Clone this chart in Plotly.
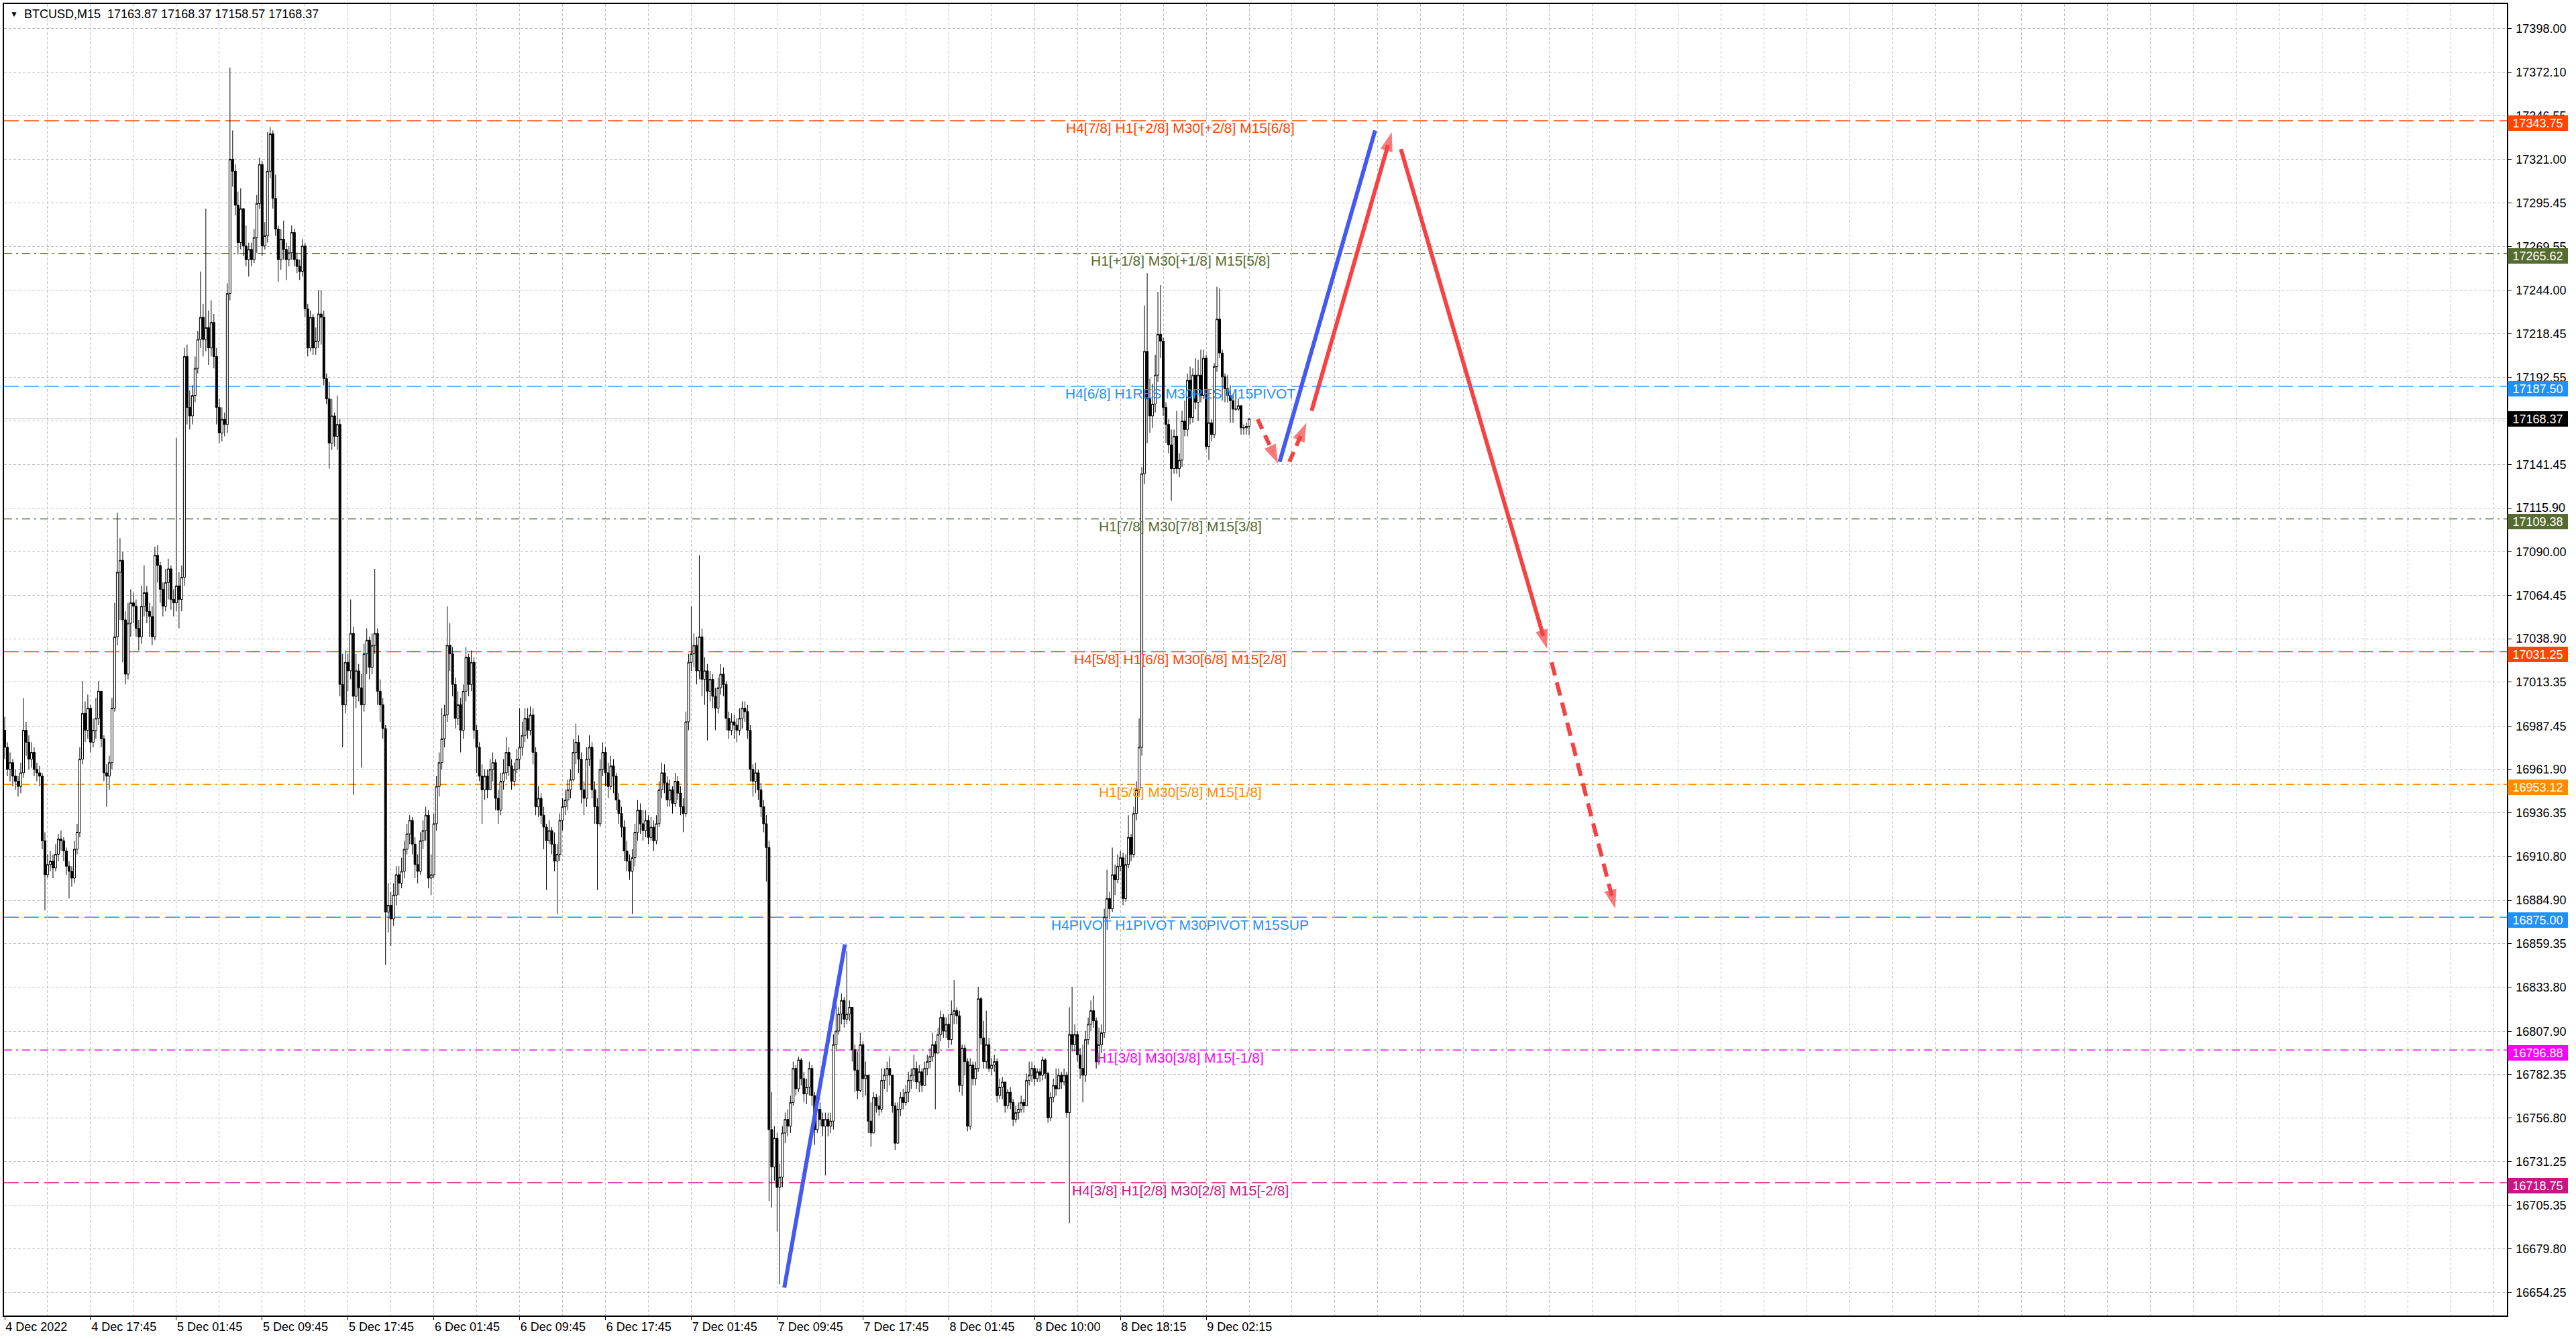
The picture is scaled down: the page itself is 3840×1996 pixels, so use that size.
import plotly.graph_objects as go

# BTCUSD M15 candles, bar 0 = 4 Dec 2022 09:45
first_open = 16985
closes = [
    16975, 16962, 16966, 16958, 16955, 16952, 16960, 16985, 16978, 16968,
    16972, 16962, 16960, 16958, 16920, 16900, 16906, 16908, 16904, 16912,
    16921, 16920, 16914, 16905, 16902, 16898, 16915, 16925, 16968, 16995,
    16985, 16998, 16978, 16985, 16992, 17008, 16980, 16960, 16958, 16966,
    16998, 17040, 17078, 17085, 17050, 17018, 17048, 17060, 17058, 17045,
    17040, 17058, 17066, 17055, 17052, 17040, 17088, 17082, 17068, 17058,
    17072, 17080, 17062, 17060, 17070, 17062, 17075, 17205, 17175, 17170,
    17182, 17198, 17215, 17228, 17215, 17222, 17210, 17225, 17205, 17175,
    17160, 17168, 17165, 17242, 17321, 17314, 17294, 17272, 17292, 17270,
    17262, 17268, 17262, 17275, 17295, 17318, 17270, 17276, 17314, 17336,
    17298, 17280, 17262, 17274, 17268, 17262, 17266, 17278, 17262, 17258,
    17255, 17270, 17233, 17210, 17228, 17210, 17214, 17230, 17228, 17192,
    17180, 17154, 17170, 17158, 17165, 17012, 17000, 17025, 17020, 17042,
    17005, 17020, 17010, 17000, 17030, 17038, 17022, 17035, 17042, 17008,
    17000, 16986, 16878, 16882, 16874, 16888, 16900, 16895, 16902, 16915,
    16924, 16932, 16918, 16906, 16902, 16920, 16926, 16935, 16898, 16900,
    16930, 16952, 16966, 16980, 16994, 17035, 17030, 17012, 16992, 17000,
    16985, 17008, 17028, 17012, 17025, 16985, 16975, 16958, 16950, 16958,
    16950, 16962, 16966, 16945, 16938, 16955, 16960, 16972, 16964, 16955,
    16962, 16968, 16975, 16982, 16992, 16985, 16994, 16972, 16940, 16945,
    16935, 16928, 16920, 16926, 16918, 16908, 16912, 16932, 16940, 16944,
    16950, 16956, 16972, 16978, 16968, 16950, 16945, 16968, 16975, 16950,
    16940, 16930, 16962, 16972, 16960, 16952, 16964, 16958, 16944, 16936,
    16928, 16914, 16908, 16902, 16910, 16925, 16938, 16930, 16926, 16932,
    16922, 16928, 16920, 16930, 16950, 16960, 16954, 16944, 16950, 16942,
    16955, 16948, 16940, 16936, 16990, 17025, 17030, 17035, 17020, 17040,
    17015, 17020, 17008, 17015, 17005, 16998, 17010, 17018, 17012, 16992,
    16985, 16990, 16988, 16985, 16992, 16998, 16996, 16985, 16962, 16955,
    16960, 16950, 16940, 16930, 16916, 16750, 16728, 16745, 16716, 16722,
    16748, 16756, 16752, 16766, 16786, 16774, 16791, 16780, 16771, 16775,
    16786, 16770, 16750, 16762, 16756, 16752, 16756, 16752, 16755, 16800,
    16808, 16818, 16826, 16815, 16818, 16822, 16797, 16785, 16773, 16800,
    16780, 16782, 16755, 16748, 16769, 16764, 16762, 16779, 16782, 16786,
    16782, 16764, 16742, 16762, 16769, 16766, 16772, 16779, 16782, 16786,
    16778, 16784, 16776, 16786, 16790, 16793, 16800, 16795, 16806, 16816,
    16808, 16812, 16803, 16818, 16820, 16817, 16776, 16798, 16790, 16752,
    16788, 16780, 16786, 16827, 16804, 16790, 16800, 16786, 16788, 16790,
    16770, 16775, 16778, 16764, 16772, 16766, 16756, 16760, 16762, 16766,
    16764, 16779, 16782, 16786, 16780, 16784, 16782, 16791, 16783, 16757,
    16769, 16776, 16774, 16782, 16778, 16782, 16760, 16806, 16800, 16806,
    16794, 16786, 16782, 16803, 16812, 16820, 16814, 16790, 16800, 16807,
    16875, 16886, 16880, 16900, 16897, 16905, 16910, 16886, 16906, 16922,
    16912, 16936, 16950, 16975, 17136, 17208, 17180, 17170, 17177, 17194,
    17218, 17214, 17175, 17165, 17153, 17139, 17158, 17139, 17144, 17167,
    17162, 17191, 17169, 17194, 17178, 17194, 17182, 17204, 17152, 17166,
    17159, 17199, 17227, 17207, 17193, 17186, 17182, 17179, 17174, 17174,
    17176, 17163, 17163, 17163.87, 17168.37,
]
highs = [
    16993, 16978, 16972, 16968, 16962, 16958, 16966, 17004, 16990, 16982,
    16978, 16975, 16966, 16964, 16960, 16925, 16912, 16914, 16912, 16918,
    16924, 16926, 16922, 16916, 16908, 16905, 16920, 16930, 16975, 17014,
    17002, 17006, 17000, 16992, 17004, 17014, 17008, 16982, 16965, 16970,
    17004, 17060, 17113, 17098, 17090, 17055, 17060, 17068, 17066, 17062,
    17050, 17070, 17082, 17070, 17060, 17058, 17093, 17094, 17084, 17072,
    17080, 17086, 17082, 17068, 17157, 17078, 17082, 17210, 17212, 17185,
    17188, 17205, 17220, 17255, 17236, 17292, 17232, 17238, 17230, 17210,
    17180, 17175, 17172, 17248, 17375, 17338, 17318, 17302, 17304, 17290,
    17282, 17272, 17272, 17280, 17300, 17322, 17320, 17284, 17337, 17340,
    17338, 17312, 17282, 17280, 17285, 17272, 17270, 17282, 17280, 17266,
    17262, 17274, 17272, 17236, 17232, 17230, 17222, 17244, 17244, 17232,
    17195, 17190, 17180, 17172, 17182, 17168, 17030, 17032, 17030, 17062,
    17046, 17030, 17024, 17018, 17036, 17045, 17040, 17042, 17080, 17045,
    17015, 17004, 16988, 16895, 16890, 16895, 16905, 16905, 16910, 16920,
    16930, 16935, 16934, 16922, 16912, 16925, 16932, 16940, 16938, 16912,
    16936, 16958, 16972, 16998, 17000, 17058, 17048, 17034, 17016, 17008,
    17004, 17012, 17034, 17030, 17032, 17028, 16988, 16978, 16965, 16962,
    16962, 16968, 16972, 16968, 16950, 16960, 16968, 16981, 16975, 16968,
    16966, 16974, 16998, 16990, 16998, 16998, 16999, 16998, 16975, 16952,
    16948, 16940, 16930, 16932, 16928, 16925, 16918, 16936, 16945, 16950,
    16956, 16962, 16980, 16989, 16982, 16972, 16955, 16975, 16982, 16978,
    16955, 16945, 16968, 16978, 16975, 16966, 16970, 16968, 16960, 16948,
    16940, 16932, 16920, 16912, 16915, 16930, 16944, 16942, 16938, 16938,
    16935, 16934, 16932, 16935, 16955, 16966, 16965, 16958, 16956, 16952,
    16960, 16958, 16952, 16945, 16996, 17030, 17058, 17042, 17040, 17088,
    17045, 17028, 17024, 17020, 17018, 17010, 17016, 17024, 17022, 17014,
    16996, 16995, 16994, 16992, 16998, 17002, 17002, 17000, 16988, 16965,
    16966, 16962, 16954, 16944, 16935, 16920, 16772, 16752, 16748, 16730,
    16752, 16760, 16762, 16770, 16790, 16788, 16793, 16792, 16784, 16780,
    16790, 16788, 16772, 16768, 16766, 16760, 16760, 16760, 16760, 16806,
    16827, 16822, 16830, 16828, 16855, 16826, 16822, 16800, 16796, 16807,
    16802, 16790, 16780, 16766, 16772, 16771, 16770, 16786, 16786, 16790,
    16793, 16780, 16766, 16766, 16772, 16774, 16776, 16784, 16786, 16794,
    16790, 16788, 16786, 16790, 16794, 16798, 16807, 16802, 16810, 16820,
    16818, 16816, 16818, 16826, 16838, 16822, 16820, 16800, 16800, 16792,
    16792, 16790, 16790, 16834, 16828, 16814, 16820, 16804, 16792, 16794,
    16792, 16780, 16781, 16778, 16774, 16775, 16768, 16764, 16766, 16770,
    16768, 16783, 16790, 16790, 16788, 16786, 16786, 16793, 16792, 16784,
    16772, 16780, 16786, 16786, 16784, 16786, 16784, 16822, 16834, 16812,
    16808, 16798, 16800, 16808, 16816, 16826, 16829, 16816, 16810, 16812,
    16880, 16903, 16890, 16916, 16906, 16912, 16914, 16913, 16912, 16935,
    16924, 16940, 16955, 16992, 17140, 17235, 17254, 17192, 17189, 17206,
    17243, 17247, 17216, 17178, 17168, 17162, 17162, 17173, 17148, 17173,
    17179, 17195, 17199, 17198, 17204, 17203, 17209, 17209, 17206, 17185,
    17168, 17201, 17246, 17245, 17209, 17195, 17194, 17188, 17183, 17185,
    17180, 17176, 17165, 17166, 17168.37,
]
lows = [
    16968, 16958, 16955, 16952, 16950, 16946, 16948, 16957, 16970, 16962,
    16963, 16958, 16955, 16952, 16915, 16879, 16898, 16902, 16898, 16902,
    16908, 16914, 16908, 16900, 16886, 16893, 16895, 16912, 16922, 16965,
    16978, 16980, 16972, 16975, 16980, 16988, 16975, 16955, 16940, 16950,
    16962, 16996, 17035, 17050, 17025, 17012, 17015, 17040, 17048, 17040,
    17032, 17036, 17052, 17048, 17040, 17035, 17038, 17072, 17060, 17052,
    17055, 17062, 17056, 17052, 17055, 17045, 17055, 17070, 17165, 17162,
    17165, 17178, 17195, 17210, 17205, 17208, 17200, 17205, 17198, 17165,
    17154, 17155, 17158, 17160, 17238, 17305, 17288, 17265, 17268, 17264,
    17258, 17252, 17258, 17260, 17266, 17292, 17264, 17268, 17272, 17310,
    17292, 17276, 17249, 17256, 17262, 17250, 17258, 17262, 17258, 17254,
    17250, 17252, 17228, 17205, 17208, 17206, 17206, 17210, 17212, 17188,
    17177, 17139, 17150, 17152, 17150, 17005, 16975, 16995, 17008, 17015,
    16947, 16998, 17002, 16963, 16996, 17018, 17015, 17018, 17030, 17000,
    16990, 16980, 16847, 16866, 16858, 16870, 16882, 16888, 16892, 16898,
    16912, 16918, 16912, 16898, 16895, 16900, 16915, 16920, 16892, 16888,
    16898, 16926, 16946, 16962, 16975, 16990, 17020, 17005, 16986, 16988,
    16972, 16980, 17002, 17005, 17008, 16980, 16960, 16955, 16930, 16944,
    16945, 16950, 16955, 16938, 16930, 16935, 16950, 16956, 16958, 16950,
    16952, 16960, 16962, 16970, 16978, 16980, 16982, 16965, 16935, 16934,
    16930, 16915, 16891, 16918, 16912, 16902, 16877, 16908, 16926, 16935,
    16938, 16945, 16955, 16965, 16960, 16942, 16935, 16940, 16964, 16945,
    16930, 16891, 16928, 16958, 16952, 16945, 16950, 16948, 16938, 16930,
    16922, 16908, 16902, 16897, 16877, 16905, 16920, 16924, 16920, 16922,
    16918, 16920, 16914, 16918, 16928, 16945, 16948, 16940, 16940, 16936,
    16940, 16944, 16935, 16925, 16934, 16985, 17020, 17022, 17012, 17015,
    17005, 17000, 16979, 17002, 16998, 16985, 16995, 17006, 17005, 16985,
    16980, 16982, 16980, 16978, 16982, 16986, 16990, 16980, 16955, 16946,
    16948, 16944, 16934, 16925, 16896, 16708, 16704, 16720, 16690, 16659,
    16716, 16742, 16746, 16748, 16764, 16770, 16772, 16776, 16766, 16765,
    16770, 16764, 16741, 16748, 16752, 16746, 16723, 16746, 16748, 16750,
    16796, 16806, 16812, 16810, 16812, 16814, 16790, 16772, 16768, 16772,
    16769, 16770, 16748, 16740, 16758, 16760, 16758, 16760, 16774, 16772,
    16776, 16760, 16738, 16744, 16758, 16762, 16764, 16766, 16774, 16778,
    16774, 16772, 16772, 16776, 16782, 16786, 16790, 16762, 16796, 16802,
    16804, 16804, 16798, 16800, 16812, 16812, 16772, 16770, 16782, 16749,
    16750, 16776, 16776, 16784, 16800, 16786, 16786, 16784, 16782, 16784,
    16766, 16768, 16768, 16760, 16762, 16762, 16752, 16754, 16756, 16760,
    16760, 16764, 16776, 16778, 16776, 16778, 16778, 16779, 16780, 16754,
    16755, 16766, 16770, 16776, 16774, 16776, 16757, 16695, 16796, 16796,
    16790, 16780, 16766, 16778, 16800, 16808, 16810, 16786, 16788, 16795,
    16804, 16872, 16874, 16878, 16888, 16895, 16902, 16882, 16884, 16904,
    16908, 16910, 16932, 16946, 16970, 17130, 17154, 17160, 17163, 17172,
    17190, 17204, 17170, 17154, 17148, 17120, 17136, 17136, 17134, 17140,
    17158, 17158, 17165, 17166, 17174, 17167, 17178, 17180, 17150, 17144,
    17155, 17157, 17196, 17204, 17179, 17178, 17178, 17166, 17166, 17173,
    17173, 17159, 17159, 17159, 17158.57,
]

time_ticks = [0, 32, 64, 96, 128, 160, 192, 224, 256, 288, 320, 352, 384, 416, 448]
time_labels = ["4 Dec 2022", "4 Dec 17:45", "5 Dec 01:45", "5 Dec 09:45", "5 Dec 17:45",
               "6 Dec 01:45", "6 Dec 09:45", "6 Dec 17:45", "7 Dec 01:45", "7 Dec 09:45",
               "7 Dec 17:45", "8 Dec 01:45", "8 Dec 10:00", "8 Dec 18:15", "9 Dec 02:15"]

price_ticks = [17398.00, 17372.10, 17346.55, 17321.00, 17295.45, 17269.55, 17244.00,
               17218.45, 17192.55, 17167.00, 17141.45, 17115.90, 17090.00, 17064.45,
               17038.90, 17013.35, 16987.45, 16961.90, 16936.35, 16910.80, 16884.90,
               16859.35, 16833.80, 16807.90, 16782.35, 16756.80, 16731.25, 16705.35,
               16679.80, 16654.25]

# Murrey-math style levels
levels = [17343.75, 17265.62, 17187.50, 17109.38, 17031.25, 16953.12, 16875.00, 16796.88, 16718.75]
level_texts = [
    "H4[7/8] H1[+2/8] M30[+2/8] M15[6/8]",
    "H1[+1/8] M30[+1/8] M15[5/8]",
    "H4[6/8] H1RES M30RES M15PIVOT",
    "H1[7/8] M30[7/8] M15[3/8]",
    "H4[5/8] H1[6/8] M30[6/8] M15[2/8]",
    "H1[5/8] M30[5/8] M15[1/8]",
    "H4PIVOT H1PIVOT M30PIVOT M15SUP",
    "H1[3/8] M30[3/8] M15[-1/8]",
    "H4[3/8] H1[2/8] M30[2/8] M15[-2/8]",
]
level_colors = ["#FF4500", "#556B2F", "#1E90FF", "#556B2F", "#FF4500",
                "#FF8C00", "#1E90FF", "#FF00FF", "#C71585"]
level_dashes = ["22px,8px", "12px,6px,3px,6px", "22px,8px", "12px,6px,3px,6px", "22px,8px",
                "12px,6px,3px,6px", "22px,8px", "12px,6px,3px,6px", "22px,8px"]

last_price = 17168.37
title_text = "BTCUSD,M15\u00a0\u00a017163.87 17168.37 17158.57 17168.37"

# hand-drawn forecast lines (bar index, price)
blue_a_x, blue_a_y = [290.7, 313.3], [16657, 16859]
blue_b_x, blue_b_y = [475.4, 511.0], [17143, 17338]
red_up_x, red_up_y = [487.3, 517.2], [17173, 17337]
red_down_x, red_down_y = [520.6, 575.1], [17327, 17033]
red_down2_x, red_down2_y = [576.8, 600.5], [17025, 16880]
red_dip_x, red_dip_y = [467.2, 474.8], [17168, 17142]
red_bounce_x, red_bounce_y = [479.0, 485.4], [17143, 17166]

BLUE = "#4259F2"
RED = "#F64242"
GRID = "#C0C0C0"
AX_FONT = dict(family="Liberation Sans, Arial, sans-serif", size=18, color="black")

bars = list(range(len(closes)))
opens = [first_open] + closes[:-1]
assert len(highs) == len(closes) == len(lows)
highs = [max(h, o, c) for h, o, c in zip(highs, opens, closes)]
lows = [min(l, o, c) for l, o, c in zip(lows, opens, closes)]

fig = go.Figure()

fig.add_trace(go.Candlestick(
    x=bars, open=opens, high=highs, low=lows, close=closes,
    increasing=dict(line=dict(color="black", width=1), fillcolor="white"),
    decreasing=dict(line=dict(color="black", width=1), fillcolor="black"),
    whiskerwidth=0, hoverinfo="skip", showlegend=False,
))


def stroke(xs, ys, color, dash="solid", head=False):
    fig.add_trace(go.Scatter(
        x=xs, y=ys, mode="lines+markers" if head else "lines",
        line=dict(color=color, width=6, dash=dash, backoff=20 if head else 0),
        marker=dict(symbol="arrow", size=[0, 30], angleref="previous", color=color,
                    line=dict(width=0)),
        hoverinfo="skip", showlegend=False,
    ))


stroke(blue_a_x, blue_a_y, BLUE)
stroke(blue_b_x, blue_b_y, BLUE)
stroke(red_up_x, red_up_y, RED, head=True)
stroke(red_down_x, red_down_y, RED, head=True)
stroke(red_down2_x, red_down2_y, RED, dash="20px,11px", head=True)
stroke(red_dip_x, red_dip_y, RED, dash="16px,10px", head=True)
stroke(red_bounce_x, red_bounce_y, RED, dash="16px,10px", head=True)

shapes = [dict(type="line", xref="paper", x0=0, x1=1, yref="y", y0=last_price, y1=last_price,
               line=dict(color=GRID, width=1), layer="below")]
annotations = []
for lvl, txt, col, dsh in zip(levels, level_texts, level_colors, level_dashes):
    shapes.append(dict(type="line", xref="paper", x0=0, x1=1, yref="y", y0=lvl, y1=lvl,
                       line=dict(color=col, width=1.5, dash=dsh), layer="below"))
    annotations.append(dict(x=438.25, y=lvl, xref="x", yref="y", text=txt, showarrow=False,
                            xanchor="center", yanchor="middle", yshift=-11,
                            font=dict(family="Liberation Sans, Arial, sans-serif", size=21, color=col)))
    annotations.append(dict(x=1, y=lvl, xref="paper", yref="y", text=f"{lvl:.2f}", showarrow=False,
                            xanchor="left", yanchor="middle", xshift=1, yshift=-4,
                            width=88, height=21, borderpad=1, borderwidth=0,
                            bgcolor=col, font=dict(family=AX_FONT["family"], size=18, color="white")))

annotations.append(dict(x=1, y=last_price, xref="paper", yref="y", text=f"{last_price:.2f}",
                        showarrow=False, xanchor="left", yanchor="middle", xshift=1,
                        width=88, height=21, borderpad=1, borderwidth=0, bgcolor="black",
                        font=dict(family=AX_FONT["family"], size=18, color="white")))
annotations.append(dict(x=0, y=1, xref="paper", yref="paper", text=title_text, showarrow=False,
                        xanchor="left", yanchor="top", xshift=28, yshift=-3, font=AX_FONT))
annotations.append(dict(x=0, y=1, xref="paper", yref="paper", text="\u25bc", showarrow=False,
                        xanchor="left", yanchor="top", xshift=7, yshift=-6,
                        font=dict(family=AX_FONT["family"], size=12, color="black")))

minor_grid = [v for v in range(16, 933, 16) if v not in time_ticks]

fig.update_layout(
    width=3840, height=1996,
    margin=dict(l=4, r=103, t=5, b=35),
    paper_bgcolor="white", plot_bgcolor="white",
    hovermode=False, showlegend=False,
    boxgap=0.25, boxgroupgap=0,
    shapes=shapes, annotations=annotations,
    xaxis=dict(
        range=[-0.25, 933], rangeslider=dict(visible=False),
        tickmode="array", tickvals=time_ticks, ticktext=time_labels,
        ticks="outside", ticklen=5, tickcolor="black", ticklabelposition="outside right",
        tickfont=AX_FONT, showgrid=True, gridcolor=GRID, gridwidth=1, griddash="4px,3px",
        minor=dict(tickvals=minor_grid, showgrid=True, gridcolor=GRID, gridwidth=1,
                   griddash="4px,3px", ticks=""),
        showline=True, linecolor="black", linewidth=1.5, mirror=True, zeroline=False,
        fixedrange=True,
    ),
    yaxis=dict(
        side="right", range=[16640.6, 17412.4],
        tickmode="array", tickvals=price_ticks, ticktext=[f"{v:.2f}" for v in price_ticks],
        ticks="outside", ticklen=5, tickcolor="black", ticklabelstandoff=3,
        tickfont=AX_FONT, showgrid=True, gridcolor=GRID, gridwidth=1, griddash="4px,3px",
        showline=True, linecolor="black", linewidth=1.5, mirror=True, zeroline=False,
        fixedrange=True,
    ),
)

fig.write_html("out.html", config={"displayModeBar": False},
               post_script="document.body.style.margin='0px';document.body.style.overflow='hidden';")
